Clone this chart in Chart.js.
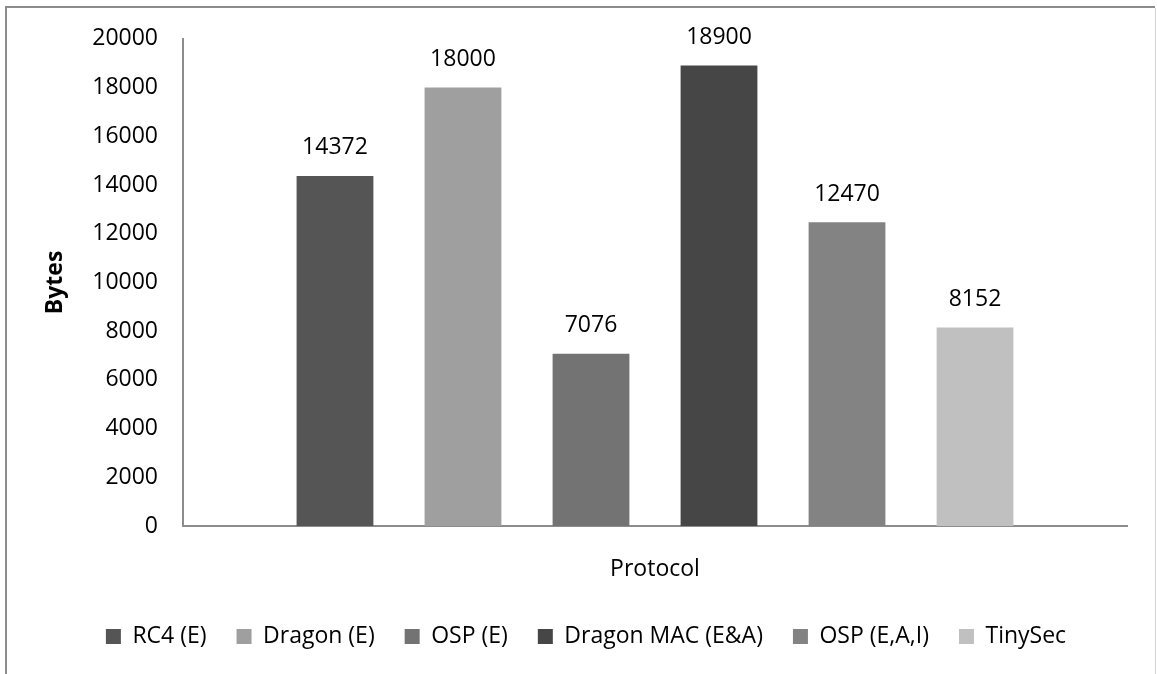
<!DOCTYPE html>
<html>
<head>
<meta charset="utf-8">
<title>Bytes per protocol</title>
<script src="https://cdn.jsdelivr.net/npm/chart.js@4/dist/chart.umd.min.js"></script>
<style>
  html, body { margin: 0; padding: 0; background: #ffffff; }
  #wrap { position: relative; width: 1157px; height: 674px; }
</style>
</head>
<body>
<div id="wrap"><canvas id="chart" width="1157" height="674"></canvas></div>
<script>
// Chart data
const categories = ['Protocol'];
const seriesNames = ['RC4 (E)', 'Dragon (E)', 'OSP (E)', 'Dragon MAC (E&A)', 'OSP (E,A,I)', 'TinySec'];
const seriesValues = [14372, 18000, 7076, 18900, 12470, 8152];
const seriesColors = ['#555555', '#9f9f9f', '#737373', '#464646', '#838383', '#c0c0c0'];
const yMin = 0;
const yMax = 20000;
const yStep = 2000;

const FONT = '"Open Sans", "Noto Sans", sans-serif';
Chart.defaults.font.family = FONT;
Chart.defaults.font.size = 23;
Chart.defaults.color = '#000000';

const datasets = seriesNames.map((name, i) => ({
  label: name,
  data: [seriesValues[i]],
  backgroundColor: seriesColors[i],
  borderWidth: 0,
  categoryPercentage: 0.8136,
  barPercentage: 0.6
}));

// Value labels above each bar
const valueLabels = {
  id: 'valueLabels',
  afterDatasetsDraw(chart) {
    const ctx = chart.ctx;
    ctx.save();
    ctx.font = '23px ' + FONT;
    ctx.fillStyle = '#000000';
    ctx.textAlign = 'center';
    ctx.textBaseline = 'middle';
    chart.data.datasets.forEach((ds, i) => {
      const meta = chart.getDatasetMeta(i);
      meta.data.forEach((bar, j) => {
        ctx.fillText(String(ds.data[j]), bar.x, bar.y - 28);
      });
    });
    ctx.restore();
  }
};

// Outer frame of the chart
const frame = {
  id: 'frame',
  beforeDraw(chart) {
    const ctx = chart.ctx;
    ctx.save();
    ctx.fillStyle = '#ffffff';
    ctx.fillRect(0, 0, chart.width, chart.height);
    ctx.strokeStyle = '#8c8c8c';
    ctx.lineWidth = 2;
    ctx.beginPath();
    ctx.moveTo(6, chart.height + 2);
    ctx.lineTo(6, 7);
    ctx.lineTo(1155, 7);
    ctx.stroke();
    ctx.strokeStyle = '#d4d4d4';
    ctx.lineWidth = 1;
    ctx.beginPath();
    ctx.moveTo(1155.5, 8);
    ctx.lineTo(1155.5, chart.height + 2);
    ctx.stroke();
    ctx.restore();
  }
};

new Chart(document.getElementById('chart'), {
  type: 'bar',
  data: { labels: categories, datasets: datasets },
  plugins: [frame, valueLabels],
  options: {
    responsive: false,
    animation: false,
    layout: { padding: { top: 36, left: 15, right: 0, bottom: 16 } },
    plugins: {
      legend: {
        position: 'bottom',
        labels: {
          boxWidth: 15,
          boxHeight: 15,
          padding: 30,
          color: '#000000',
          font: { size: 23, family: FONT }
        }
      },
      tooltip: { enabled: false }
    },
    scales: {
      x: {
        grid: { display: false, drawTicks: false },
        border: { display: true, color: '#8c8c8c', width: 2 },
        ticks: { padding: 30, color: '#000000', font: { size: 23, family: FONT }, maxRotation: 0 },
        afterFit(scale) { scale.height = 69; }
      },
      y: {
        min: yMin,
        max: yMax,
        grid: { display: false, drawTicks: false },
        border: { display: true, color: '#8c8c8c', width: 2 },
        ticks: {
          stepSize: yStep,
          padding: 25,
          color: '#000000',
          font: { size: 23, family: FONT },
          callback: (value) => String(value)
        },
        title: {
          display: true,
          text: 'Bytes',
          color: '#000000',
          font: { size: 23, weight: 'bold', family: FONT },
          padding: { top: 27, bottom: 0 }
        },
        afterFit(scale) { scale.width = 168; }
      },
      yRight: {
        position: 'right',
        display: true,
        grid: { display: false, drawTicks: false },
        border: { display: false },
        ticks: { display: false },
        afterFit(scale) { scale.width = 30; }
      }
    }
  }
});
</script>
</body>
</html>
